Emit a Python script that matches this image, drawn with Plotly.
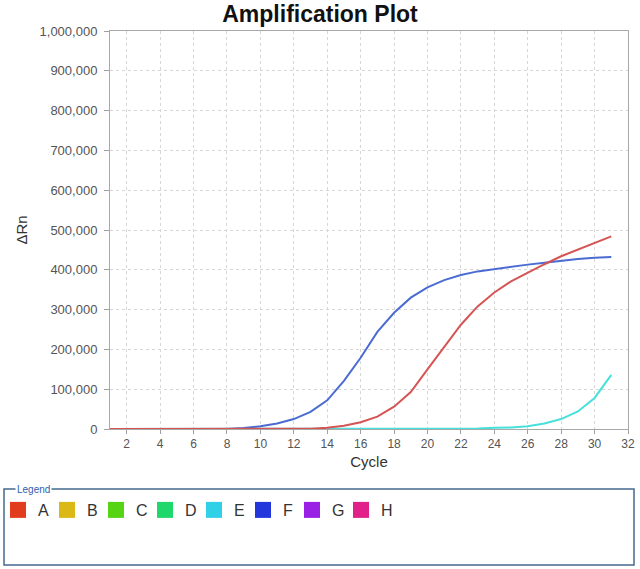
import plotly.graph_objects as go

# amplification data (delta Rn per cycle)
cycles = [1, 2, 3, 4, 5, 6, 7, 8, 9, 10, 11, 12, 13, 14, 15, 16,
          17, 18, 19, 20, 21, 22, 23, 24, 25, 26, 27, 28, 29, 30, 31]

well_a = [0, 0, 0, 0, 0, 0, 0, 0, 0, 0, 0, 0, 500, 3000, 8000, 17000,
          31000, 56000, 93000, 150000, 207000, 262000, 308000, 343000,
          371000, 393000, 414000, 434000, 451000, 469000, 484000]

well_e = [0, 0, 0, 0, 0, 0, 0, 0, 0, 0, 0, 0, 0, 0, 0, 0,
          0, 0, 0, 0, 0, 0, 1000, 3000, 4000, 7000, 14000, 25000,
          44000, 78000, 136000]

well_f = [0, 0, 0, 0, 0, 0, 0, 0, 2500, 7000, 14000, 25000, 43000,
          72000, 121000, 179000, 244000, 292000, 330000, 356000, 374000,
          387000, 396000, 402000, 408000, 413000, 418000, 423000, 427000,
          430000, 432000]

legend_names = ["A", "B", "C", "D", "E", "F", "G", "H"]
legend_colors = ["#e23c1e", "#dcb816", "#56d414", "#1ed86c",
                 "#30d0e6", "#2236dc", "#9a20e6", "#e2208a"]

y_ticks = [0, 100000, 200000, 300000, 400000, 500000,
           600000, 700000, 800000, 900000, 1000000]
x_ticks = [2, 4, 6, 8, 10, 12, 14, 16, 18, 20, 22, 24, 26, 28, 30, 32]

fig = go.Figure()

curves = [
    ("E", well_e, "#48e0da"),
    ("F", well_f, "#4a6cd2"),
    ("A", well_a, "#d65454"),
]
for name, values, color in curves:
    fig.add_trace(
        go.Scatter(
            x=cycles,
            y=values,
            mode="lines",
            name=name,
            line=dict(color=color, width=2),
            showlegend=False,
        )
    )

# legend entries (one square per well)
for i, (name, color) in enumerate(zip(legend_names, legend_colors)):
    fig.add_trace(
        go.Scatter(
            x=[None],
            y=[None],
            mode="markers",
            name=name,
            marker=dict(symbol="square", size=16, color=color),
            legendwidth=20 if i == len(legend_names) - 1 else None,
        )
    )

# legend frame with its caption
fig.add_shape(
    type="rect", xref="paper", yref="paper",
    x0=-0.2046, x1=1.0116, y0=-0.3417, y1=-0.1508,
    line=dict(color="#46698c", width=1.5),
)
fig.add_annotation(
    text="Legend", xref="paper", yref="paper",
    x=-0.183, y=-0.1508, xanchor="left", yanchor="middle",
    showarrow=False, bgcolor="white", borderpad=1,
    font=dict(size=10, color="#2f5fae"),
)

fig.update_layout(
    width=640,
    height=569,
    margin=dict(l=110, r=12, t=31, b=140, autoexpand=False),
    paper_bgcolor="white",
    plot_bgcolor="white",
    font=dict(family="Liberation Sans, Arial, sans-serif", color="#444"),
    title=dict(
        text="<b>Amplification Plot</b>",
        x=0.5, xref="container", xanchor="center",
        y=1 - 14 / 569, yanchor="middle",
        font=dict(size=23, color="#111"),
    ),
    legend=dict(
        orientation="h",
        x=-0.2162, xanchor="left",
        y=-0.2035, yanchor="middle",
        entrywidth=4, entrywidthmode="pixels",
        font=dict(size=16, color="#333"),
        bgcolor="rgba(0,0,0,0)",
    ),
)

fig.update_xaxes(
    range=[1, 32],
    tickvals=x_ticks,
    ticks="outside", ticklen=4, tickcolor="#a0a0a0",
    tickfont=dict(size=12, color="#555"),
    showline=True, linecolor="#a8a8a8", mirror=True,
    showgrid=True, gridcolor="#d6d6d6", griddash="dot",
    zeroline=False,
    title=dict(text="Cycle", font=dict(size=15, color="#333"), standoff=6),
)
fig.update_yaxes(
    range=[0, 1000000],
    tickvals=y_ticks,
    tickformat=",d",
    ticks="outside", ticklen=5, tickcolor="#a0a0a0",
    ticklabelstandoff=4,
    tickfont=dict(size=13, color="#555"),
    showline=True, linecolor="#a8a8a8", mirror=True,
    showgrid=True, gridcolor="#d6d6d6", griddash="dot",
    zeroline=False,
    title=dict(text="ΔRn", font=dict(size=15, color="#333"), standoff=8),
)

# the page's default body margin would shift the figure by 8px
fig.write_html(
    "out.html",
    config={"displayModeBar": False},
    post_script="document.body.style.margin='0';",
)
